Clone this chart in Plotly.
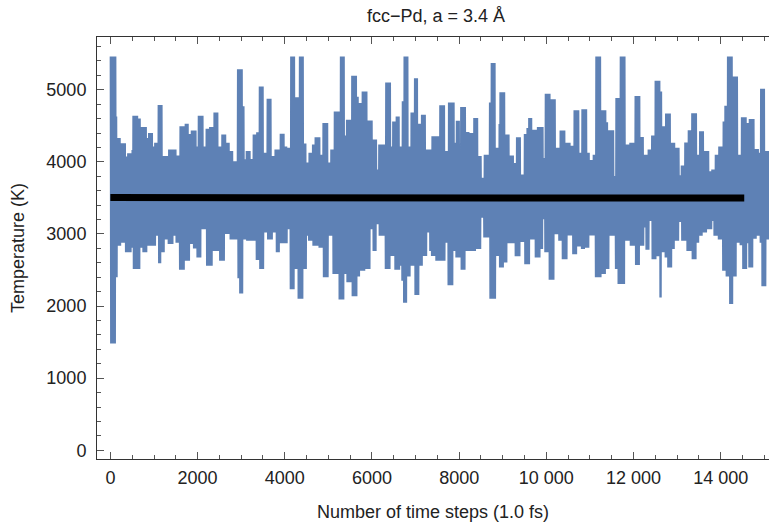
import numpy as np
import plotly.graph_objects as go

# Upper envelope of the instantaneous temperature: (start step, K)
upper_t = [0, 121, 159, 237, 344, 390, 482, 520, 634, 695,
           826, 864, 978, 1017, 1093, 1193, 1323, 1514, 1590, 1705,
           1797, 1858, 1973, 2011, 2126, 2187, 2264, 2371, 2470, 2547,
           2646, 2723, 2815, 2906, 3029, 3067, 3105, 3212, 3273, 3350,
           3403, 3510, 3590, 3694, 3770, 3885, 3984, 4053, 4137, 4237,
           4321, 4421, 4497, 4558, 4627, 4688, 4803, 4864, 4994, 5055,
           5132, 5262, 5377, 5415, 5530, 5645, 5698, 5775, 5889, 6012,
           6119, 6157, 6310, 6425, 6463, 6547, 6639, 6693, 6738, 6830,
           6891, 6968, 7060, 7121, 7228, 7366, 7558, 7672, 7749, 7886,
           7925, 8017, 8039, 8147, 8223, 8323, 8437, 8514, 8567, 8690,
           8728, 8835, 8912, 8935, 9049, 9141, 9256, 9302, 9416, 9493,
           9547, 9585, 9677, 9791, 9929, 9967, 10082, 10212, 10312, 10426,
           10556, 10633, 10748, 10809, 10924, 11000, 11077, 11130, 11245, 11367,
           11420, 11550, 11589, 11688, 11803, 11918, 12032, 12147, 12224, 12338,
           12415, 12491, 12606, 12660, 12736, 12851, 12950, 13050, 13088, 13165,
           13256, 13333, 13448, 13501, 13601, 13731, 13792, 13868, 13960, 14044,
           14098, 14159, 14274, 14388, 14480, 14595, 14656, 14763, 14878, 14916,
           15016]
upper_v = [5460, 4630, 4330, 4260, 4075, 4120, 4165, 4640, 4600, 4485,
           4330, 4400, 4215, 4265, 4790, 4080, 4170, 4090, 4495, 4530,
           4385, 4435, 4215, 4640, 4215, 4460, 4485, 4685, 4215, 4380,
           4265, 4150, 4010, 5285, 4770, 4035, 4150, 4040, 4380, 4410,
           5045, 4125, 4875, 4080, 4170, 4390, 4215, 4195, 5460, 4895,
           5460, 4255, 3990, 4125, 4240, 4340, 4100, 4540, 3990, 4170,
           4700, 5460, 4365, 4585, 5195, 4905, 4815, 4975, 4575, 4310,
           3895, 4240, 5100, 4215, 4560, 4630, 4215, 4840, 5460, 4215,
           4685, 5160, 4530, 4655, 4170, 4355, 4785, 4150, 4825, 4265,
           4570, 4090, 4760, 4415, 4400, 4610, 4080, 3780, 4100, 4825,
           5370, 4195, 4525, 4965, 4380, 4090, 3985, 4340, 3825, 4385,
           4470, 4610, 4445, 4485, 4055, 4945, 4870, 4195, 4435, 4265,
           4225, 4715, 4125, 4730, 4125, 4025, 4100, 5460, 4715, 4550,
           4440, 3805, 4885, 5460, 4240, 4265, 4915, 4345, 4100, 4170,
           4365, 5125, 4975, 4495, 4670, 4265, 4195, 3815, 3950, 4270,
           4440, 4675, 4100, 4425, 4150, 3870, 3895, 4100, 4215, 4560,
           4780, 5460, 5185, 4100, 4620, 4540, 4595, 4180, 4125, 5015,
           4150]

# Lower envelope: (start step, K)
lower_t = [0, 121, 159, 237, 344, 482, 520, 673, 750, 841,
           917, 1040, 1093, 1170, 1246, 1323, 1438, 1499, 1590, 1705,
           1820, 1897, 1973, 2088, 2203, 2340, 2493, 2623, 2738, 2929,
           2968, 3044, 3120, 3335, 3411, 3518, 3594, 3717, 3793, 3885,
           4053, 4115, 4229, 4306, 4421, 4497, 4550, 4650, 4780, 4880,
           4994, 5109, 5239, 5354, 5430, 5545, 5660, 5721, 5836, 5966,
           6012, 6104, 6157, 6310, 6425, 6524, 6639, 6677, 6716, 6807,
           6884, 6983, 7083, 7159, 7251, 7328, 7366, 7466, 7672, 7749,
           7864, 7925, 8039, 8147, 8376, 8491, 8552, 8705, 8835, 8912,
           9026, 9103, 9279, 9394, 9493, 9623, 9738, 9868, 9929, 9967,
           10059, 10174, 10273, 10365, 10480, 10595, 10694, 10809, 10885, 10985,
           11130, 11267, 11367, 11443, 11573, 11650, 11803, 11918, 12032, 12147,
           12239, 12277, 12354, 12430, 12514, 12606, 12644, 12721, 12774, 12874,
           12950, 13050, 13103, 13218, 13333, 13448, 13501, 13578, 13677, 13792,
           13845, 13945, 14044, 14121, 14197, 14289, 14366, 14442, 14503, 14595,
           14648, 14748, 14824, 14901, 14939, 15031]
lower_v = [1480, 2400, 2835, 2880, 2745, 2810, 2515, 2810, 2745, 2835,
           2835, 2975, 2595, 2745, 2925, 2860, 2975, 2880, 2505, 2630,
           2860, 2800, 2675, 3065, 2560, 2765, 2630, 3000, 2925, 2385,
           2175, 2925, 2905, 2640, 2515, 3020, 2925, 3020, 2745, 2870,
           3065, 2235, 2515, 2100, 2515, 2975, 2905, 2835, 2810, 2400,
           2975, 2445, 2090, 2445, 2330, 2135, 2410, 2490, 2515, 3065,
           2765, 3135, 2975, 2515, 2695, 2505, 2560, 2350, 2045, 2410,
           2560, 2155, 2560, 2695, 3020, 2765, 2695, 2630, 2880, 2290,
           2765, 2675, 2505, 2765, 2790, 3225, 2950, 2100, 2695, 2535,
           2605, 2870, 2690, 2890, 2580, 2925, 2675, 2790, 3205, 2745,
           2365, 2995, 2905, 2650, 2980, 2720, 2825, 2790, 2810, 2980,
           2400, 2445, 2515, 2975, 2515, 2305, 2905, 2835, 2570, 2835,
           3090, 2780, 3180, 2650, 2690, 2120, 2745, 2675, 2535, 2790,
           2905, 3165, 2905, 2765, 2650, 2880, 2975, 3020, 3065, 3180,
           2975, 2925, 2490, 2410, 2030, 2410, 2880, 2845, 2515, 2870,
           2535, 2935, 2975, 2880, 2275, 2925]

# Running average (black)
avg_t = [0, 2000, 4000, 6000, 8000, 10000, 12000, 14000, 14540]
avg_v = [3505, 3500, 3500, 3500, 3500, 3500, 3500, 3500, 3500]

x_tick_vals = [0, 2000, 4000, 6000, 8000, 10000, 12000, 14000]
x_tick_text = ["0", "2000", "4000", "6000", "8000", "10 000", "12 000", "14 000"]
y_tick_vals = [0, 1000, 2000, 3000, 4000, 5000]

# Dense oscillation: alternate between the read upper and lower envelopes
steps = np.arange(0, 15120, 10)
iu = np.searchsorted(upper_t, steps, side="right") - 1
il = np.searchsorted(lower_t, steps, side="right") - 1
up = np.asarray(upper_v)[iu]
lo = np.asarray(lower_v)[il]
temp = np.where(np.arange(len(steps)) % 2 == 0, up, lo)

FONT = "Liberation Sans, Arial, sans-serif"

fig = go.Figure()
fig.add_trace(go.Scatter(x=steps, y=temp, mode="lines",
                         line=dict(color="#5E81B5", width=1.5), hoverinfo="skip"))
fig.add_trace(go.Scatter(x=avg_t, y=avg_v, mode="lines",
                         line=dict(color="black", width=7), hoverinfo="skip"))

fig.update_layout(
    width=769, height=524,
    margin=dict(l=97, r=0, t=37, b=65),
    plot_bgcolor="white", paper_bgcolor="white",
    showlegend=False,
    font=dict(family=FONT, size=18, color="#222"),
    annotations=[
        dict(text="fcc\u2212Pd, a = 3.4 \u00c5", xref="paper", yref="paper",
             x=0.5045, y=1.05, xanchor="center", yanchor="middle",
             showarrow=False, font=dict(size=18, color="#222")),
        dict(text="Number of time steps (1.0 fs)", xref="paper", yref="paper",
             x=0.5, y=-0.126, xanchor="center", yanchor="middle",
             showarrow=False, font=dict(size=18, color="#222")),
        dict(text="Temperature (K)", xref="paper", yref="paper",
             x=-0.1176, y=0.5, xanchor="center", yanchor="middle", textangle=-90,
             showarrow=False, font=dict(size=18, color="#222")),
    ],
)

fig.update_xaxes(
    range=[-307.6, 15108], showline=True, linecolor="#333", linewidth=1,
    mirror="ticks", ticks="inside", ticklen=7, tickcolor="#555", tickwidth=1,
    tickvals=x_tick_vals, ticktext=x_tick_text, ticklabelstandoff=2,
    minor=dict(ticks="inside", ticklen=4, dtick=500, tick0=0, tickcolor="#555"),
    showgrid=False, zeroline=False,
)
fig.update_yaxes(
    range=[-121, 5732], showline=True, linecolor="#333", linewidth=1,
    ticks="inside", ticklen=7, tickcolor="#555", tickwidth=1,
    tickvals=y_tick_vals, ticklabelstandoff=6,
    minor=dict(ticks="inside", ticklen=4, dtick=200, tick0=0, tickcolor="#555"),
    showgrid=False, zeroline=False,
)

fig.write_html("out.html", config={"displayModeBar": False},
               post_script="document.body.style.margin='0';document.body.style.overflow='hidden';")
